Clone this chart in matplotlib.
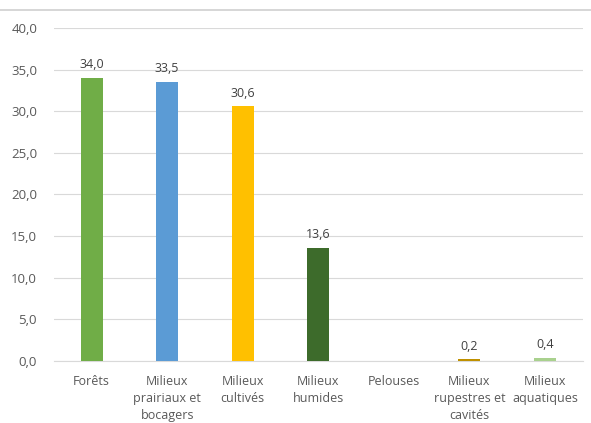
import matplotlib
matplotlib.use("Agg")
import matplotlib.pyplot as plt
from matplotlib.lines import Line2D

categories = ["Forêts", "Milieux\nprairiaux et\nbocagers", "Milieux\ncultivés", "Milieux\nhumides",
              "Pelouses", "Milieux\nrupestres et\ncavités", "Milieux\naquatiques"]
values = [34.0, 33.5, 30.6, 13.6, 0.0, 0.2, 0.4]
colors = ["#70AD47", "#5B9BD5", "#FFC000", "#3D6B2B", "#A5A5A5", "#BF9000", "#A9D18E"]
yticks = [0, 5, 10, 15, 20, 25, 30, 35, 40]

plt.rcParams['font.family'] = ['Open Sans', 'DejaVu Sans']
fig = plt.figure(figsize=(5.91, 4.23), dpi=100)
ax = fig.add_axes([0.091, 0.1466, 0.895, 0.7874])
x = list(range(len(categories)))
bars = ax.bar(x, values, width=0.29, color=colors, zorder=3)
for xi, v in zip(x, values):
    if v > 0:
        ax.text(xi, v + 0.8, f"{v:.1f}".replace(".", ","), ha="center", va="bottom",
                fontsize=9, color="#404040")
ax.set_xlim(-0.5, len(categories) - 0.5)
ax.set_ylim(0, 40)
ax.set_yticks(yticks)
ax.set_yticklabels([f"{t:.1f}".replace(".", ",") for t in yticks], fontsize=9.5, color="#595959")
ax.set_xticks(x)
ax.set_xticklabels(categories, fontsize=9, color="#595959", linespacing=1.4)
ax.grid(axis="y", color="#D9D9D9", linewidth=0.8, zorder=0)
for s in ["top", "right", "left"]:
    ax.spines[s].set_visible(False)
ax.spines["bottom"].set_color("#D9D9D9")
ax.tick_params(axis="both", length=0)
ax.tick_params(axis="x", pad=10)
ax.tick_params(axis="y", pad=12)
fig.add_artist(Line2D([0.0, 1.0], [1 - 10/423, 1 - 10/423], color="#D0D0D0", linewidth=1.2))
fig.savefig("out.png", dpi=100, facecolor="white")
